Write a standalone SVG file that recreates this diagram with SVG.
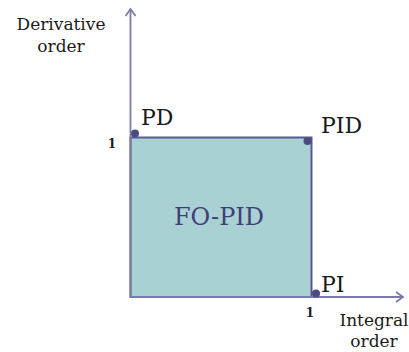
<svg xmlns="http://www.w3.org/2000/svg" width="409" height="352" viewBox="0 0 409 352">
<defs>
<style>
.lbl{font-family:"DejaVu Serif","Liberation Serif",serif;fill:#1a1a1a}
.ax{stroke:#7a7aaa;stroke-width:1.8;fill:none}
.dot{fill:#4b4b7e}
</style>
<marker id="arr" markerWidth="12" markerHeight="12" refX="10" refY="6" orient="auto" markerUnits="userSpaceOnUse">
<path d="M3,1 L10,6 L3,11" fill="none" stroke="#7a7aaa" stroke-width="1.8"/>
</marker>
</defs>
<rect width="409" height="352" fill="#fff"/>
<g id="region">
<rect x="130.5" y="137.5" width="181" height="159.5" fill="#a9d1d4" stroke="#5a5a8c" stroke-width="2"/>
<text x="219" y="225" text-anchor="middle" font-family="DejaVu Serif, Liberation Serif, serif" font-size="24" fill="#3f3f78">FO-PID</text>
</g>
<g id="connectors">
<line class="ax" x1="130.5" y1="297" x2="130.5" y2="9" marker-end="url(#arr)"/>
<line class="ax" x1="130.5" y1="297" x2="403" y2="297" marker-end="url(#arr)"/>
</g>
<g id="PD">
<circle class="dot" cx="135" cy="133.5" r="4"/>
<text class="lbl" x="141" y="125" font-size="22">PD</text>
</g>
<g id="PID">
<circle class="dot" cx="307.5" cy="141" r="4"/>
<text class="lbl" x="321" y="133" font-size="22">PID</text>
</g>
<g id="PI">
<circle class="dot" cx="316" cy="293.5" r="4"/>
<text class="lbl" x="321" y="292" font-size="22">PI</text>
</g>
<g id="yaxis-label">
<text class="lbl" x="61" y="30" font-size="17" text-anchor="middle">Derivative</text>
<text class="lbl" x="61" y="52" font-size="17" text-anchor="middle">order</text>
<text class="lbl" x="112" y="148" font-size="12" font-weight="bold" text-anchor="middle">1</text>
</g>
<g id="xaxis-label">
<text class="lbl" x="374" y="326" font-size="17" text-anchor="middle">Integral</text>
<text class="lbl" x="374" y="347" font-size="17" text-anchor="middle">order</text>
<text class="lbl" x="310" y="317" font-size="12" font-weight="bold" text-anchor="middle">1</text>
</g>
</svg>
